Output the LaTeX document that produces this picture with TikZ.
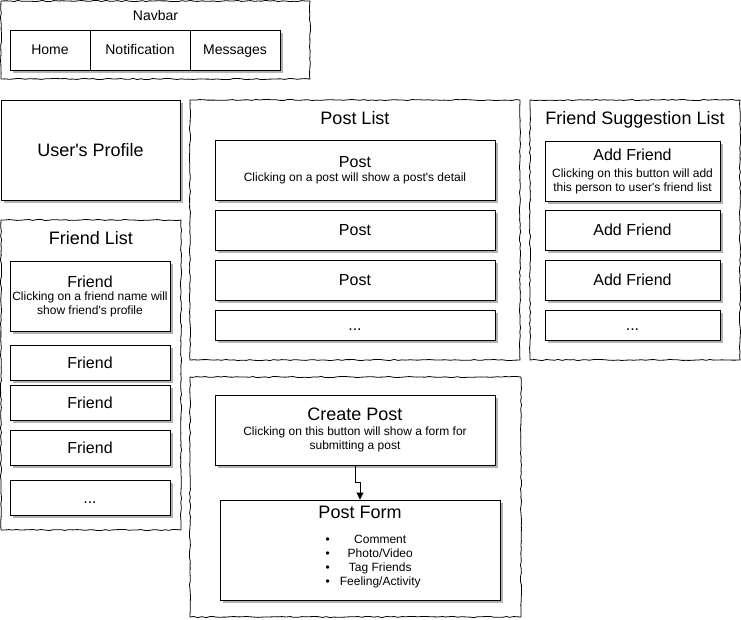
\documentclass[tikz,border=0pt]{standalone}
\usepackage{fontspec}
\setmainfont{Liberation Sans}[Ligatures=TeXOff]
\usetikzlibrary{decorations.pathmorphing,shadows,arrows.meta}
\newcommand{\bigt}[1]{{\fontsize{16}{18}\selectfont #1}}
\newcommand{\hugt}[1]{{\fontsize{18}{20}\selectfont #1}}
\begin{document}
\begin{tikzpicture}[x=1pt,y=-1pt,
  container/.style={draw, line width=0.8pt, decorate,
    decoration={random steps,segment length=4pt,amplitude=0.6pt},
    fill=white, inner sep=0pt},
  box/.style={draw, line width=0.9pt, fill=white,
    drop shadow={shadow xshift=3pt,shadow yshift=-3pt,fill=black!30,opacity=1},
    inner sep=0pt, align=center, font=\fontsize{16}{18}\selectfont,
    text height=11.5pt, text depth=0.5pt},
  multibox/.style={draw, line width=0.9pt, fill=white,
    drop shadow={shadow xshift=3pt,shadow yshift=-3pt,fill=black!30,opacity=1},
    inner sep=0pt, align=center, font=\fontsize{12}{13.5}\selectfont},
  navitem/.style={box, minimum height=40pt, font=\fontsize{14}{16}\selectfont,
    text height=10pt, text depth=1pt},
  title/.style={inner sep=0pt, font=\fontsize{18}{21}\selectfont,
    text height=13pt, text depth=0pt},
  arrowline/.style={line width=0.9pt, -{Triangle[length=7pt,width=7pt]}},
]
\pgfmathsetseed{7}
\useasboundingbox (0,0) rectangle (741,619);
\fill[white] (0,0) rectangle (741,619);

% Navbar
\node[container, minimum width=309pt, minimum height=78pt] (navbar) at (155.5,40) {};
\node[inner sep=0pt, font=\fontsize{14}{16}\selectfont] (navtitle) at (155.5,15) {Navbar};
\node[navitem, minimum width=80pt] (home) at (50,50) {Home};
\node[navitem, minimum width=100pt] (notif) at (140,50) {Notification};
\node[navitem, minimum width=90pt] (msgs) at (235,50) {Messages};

% User's profile
\node[box, minimum width=179pt, minimum height=100pt, font=\fontsize{18}{21}\selectfont,
  text height=13pt, text depth=0.5pt] (profile) at (90.5,150) {User's Profile};

% Friend list
\node[container, minimum width=180pt, minimum height=310pt] (friendlist) at (91,375) {};
\node[title] (fltitle) at (91,238) {Friend List};
\node[multibox, minimum width=160pt, minimum height=70pt] (friend1) at (90,296)
  {\bigt{Friend}\\Clicking on a friend name will\\show friend's profile};
\node[box, minimum width=160pt, minimum height=35pt] (friend2) at (90,362.5) {Friend};
\node[box, minimum width=160pt, minimum height=35pt] (friend3) at (90,402.5) {Friend};
\node[box, minimum width=160pt, minimum height=35pt] (friend4) at (90,447.5) {Friend};
\node[box, minimum width=160pt, minimum height=35pt] (friend5) at (90,497.5) {...};

% Post list
\node[container, minimum width=330pt, minimum height=260pt] (postlist) at (355,230) {};
\node[title] (pltitle) at (355,118) {Post List};
\node[multibox, minimum width=280pt, minimum height=60pt] (post1) at (355,170)
  {\bigt{Post}\\Clicking on a post will show a post's detail};
\node[box, minimum width=280pt, minimum height=40pt] (post2) at (355,230) {Post};
\node[box, minimum width=280pt, minimum height=40pt] (post3) at (355,280) {Post};
\node[box, minimum width=280pt, minimum height=30pt] (post4) at (355,325) {...};

% Friend suggestion list
\node[container, minimum width=210pt, minimum height=260pt] (suggest) at (635,230) {};
\node[title] (sgtitle) at (635,118) {Friend Suggestion List};
\node[multibox, minimum width=175pt, minimum height=60pt, font=\fontsize{12}{14}\selectfont] (add1) at (632.5,171)
  {\bigt{Add Friend}\\[3pt]Clicking on this button will add\\this person to user's friend list};
\node[box, minimum width=175pt, minimum height=40pt] (add2) at (632.5,230) {Add Friend};
\node[box, minimum width=175pt, minimum height=40pt] (add3) at (632.5,280) {Add Friend};
\node[box, minimum width=175pt, minimum height=30pt] (add4) at (632.5,325) {...};

% Create post area
\node[container, minimum width=331pt, minimum height=240pt] (createarea) at (355.5,497) {};
\node[multibox, minimum width=280pt, minimum height=70pt, font=\fontsize{12}{14}\selectfont] (createpost) at (355,430)
  {\hugt{Create Post}\\[0.5pt]Clicking on this button will show a form for\\submitting a post};
\node[multibox, minimum width=280pt, minimum height=100pt] (postform) at (360,550) {};
\node[title] (pftitle) at (360,511.5) {Post Form};
\node[inner sep=0pt, anchor=west, font=\fontsize{12}{14}\selectfont] (formlist) at (325.5,562)
  {\begin{tabular}{@{}c@{\hspace{10pt}}c@{}}
   \textbullet & Comment\\
   \textbullet & Photo/Video\\
   \textbullet & Tag Friends\\
   \textbullet & Feeling/Activity
   \end{tabular}};

\draw[arrowline] (createpost.south) -- ++(0,17) -| (postform.north);
\end{tikzpicture}
\end{document}
